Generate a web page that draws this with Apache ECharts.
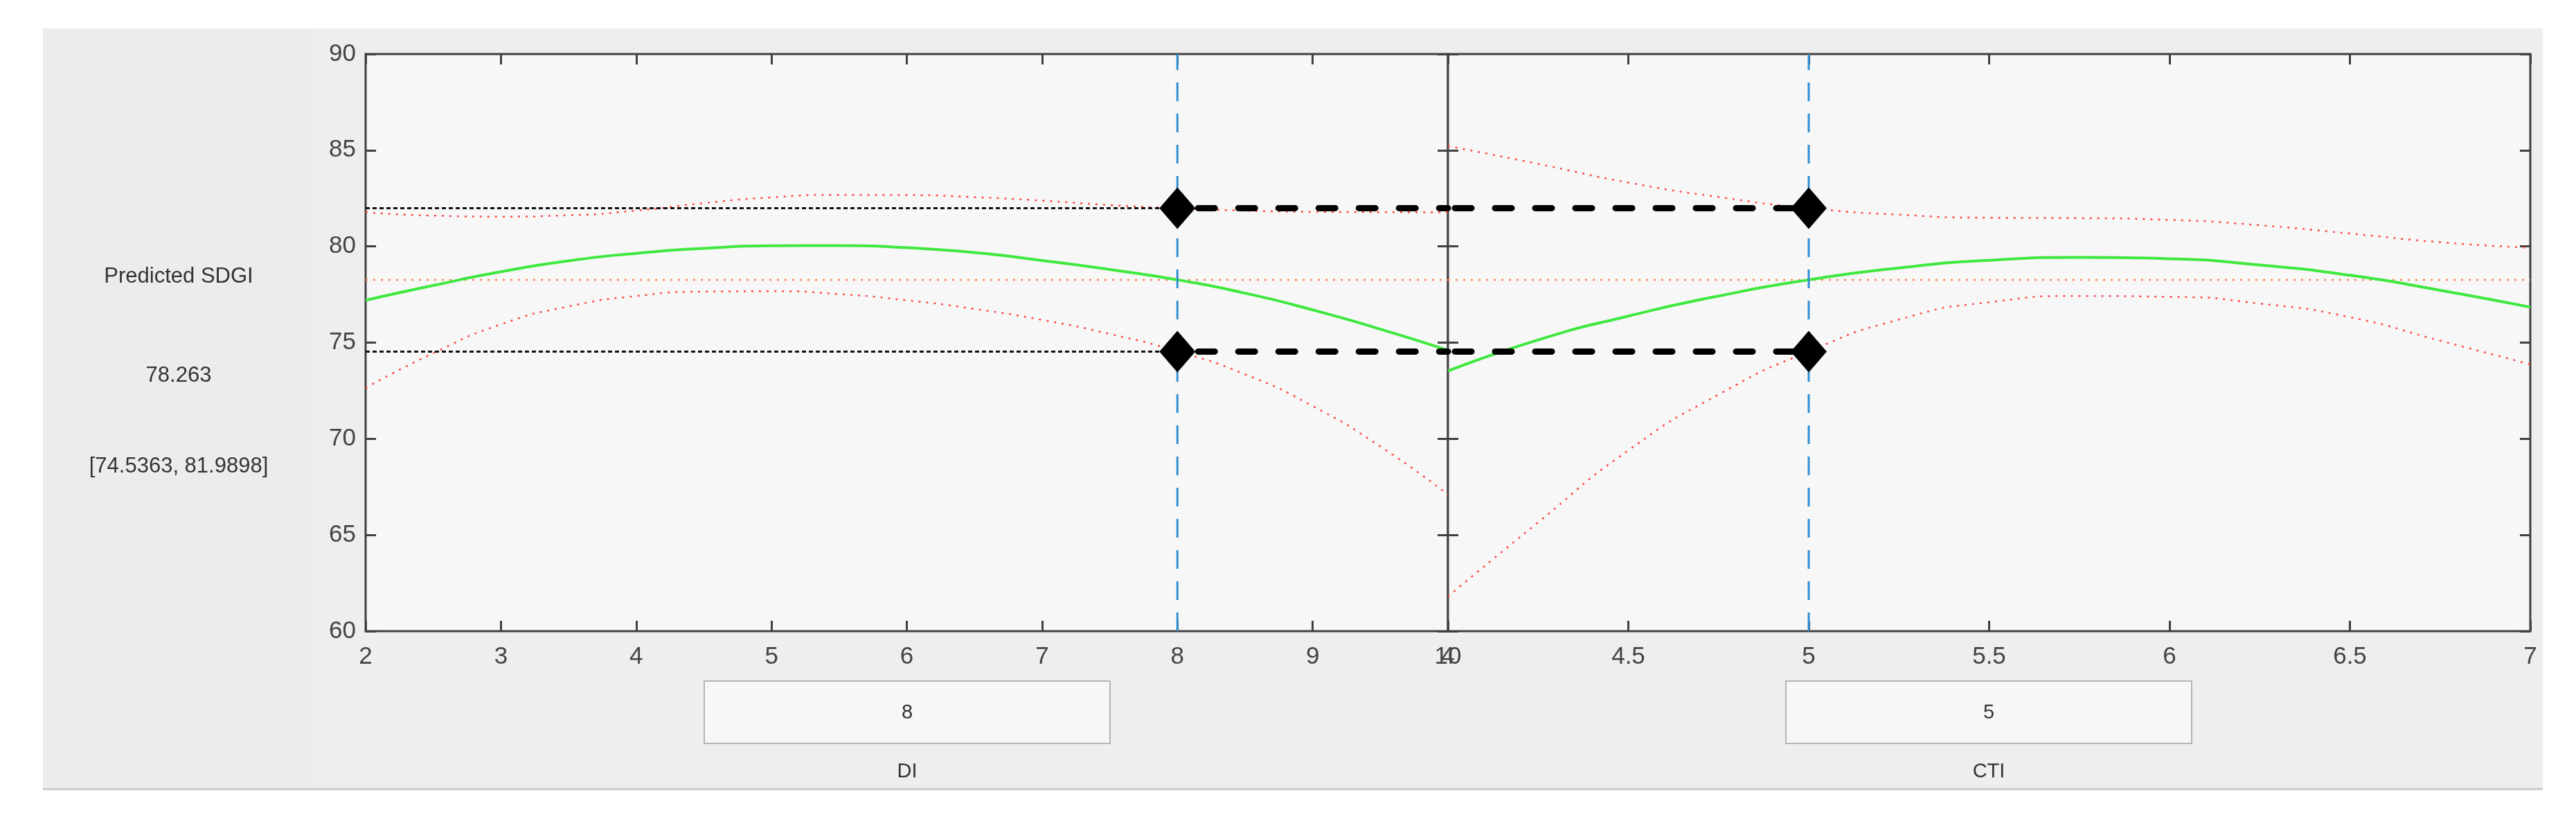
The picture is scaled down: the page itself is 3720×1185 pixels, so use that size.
<!DOCTYPE html>
<html>
<head>
<meta charset="utf-8">
<title>Prediction slice plot</title>
<script src="https://cdn.jsdelivr.net/npm/echarts@6/dist/echarts.min.js"></script>
<style>
  html, body { margin: 0; padding: 0; background: #ffffff; }
  #main { width: 3720px; height: 1185px; }
</style>
</head>
<body>
<div id="main"></div>
<script>
// predicted value and its confidence bounds at the current setting
var predicted = 78.263;
var ciLow = 74.5363;
var ciHigh = 81.9898;
var diSetting = 8;
var ctiSetting = 5;

// DI slice (x from 2 to 10)
var diX = [2, 2.5, 3, 3.5, 4, 4.5, 5, 5.5, 6, 6.5, 7, 7.5, 8, 8.5, 9, 9.5, 10];
var diFit = [77.2, 77.97, 78.68, 79.25, 79.64, 79.9, 80.03, 80.04, 79.93, 79.68, 79.27, 78.8, 78.263, 77.57, 76.7, 75.7, 74.6];
var diUpper = [81.78, 81.6, 81.55, 81.62, 81.86, 82.25, 82.55, 82.68, 82.67, 82.56, 82.38, 82.15, 81.99, 81.86, 81.8, 81.78, 81.77];
var diLower = [72.64, 74.45, 75.95, 76.88, 77.42, 77.65, 77.67, 77.52, 77.2, 76.75, 76.18, 75.45, 74.54, 73.35, 71.7, 69.6, 67.1];

// CTI slice (x from 4 to 7)
var ctiX = [4, 4.25, 4.5, 4.75, 5, 5.25, 5.5, 5.75, 6, 6.25, 6.5, 6.75, 7];
var ctiFit = [73.52, 75.14, 76.38, 77.42, 78.263, 78.88, 79.28, 79.43, 79.36, 79.03, 78.5, 77.72, 76.84];
var ctiUpper = [85.22, 84.29, 83.32, 82.57, 81.99, 81.65, 81.49, 81.47, 81.38, 81.1, 80.67, 80.22, 79.93];
var ctiLower = [61.8, 65.66, 69.4, 72.3, 74.54, 76.2, 77.1, 77.42, 77.38, 77.03, 76.32, 75.1, 73.87];

var leftTexts = ['Predicted SDGI', '78.263', '[74.5363, 81.9898]'];
var inputNames = ['DI', 'CTI'];
var inputValues = ['8', '5'];

function pairs(xs, ys) {
  return xs.map(function (x, i) { return [x, ys[i]]; });
}

var myChart = echarts.init(document.getElementById('main'));

var axisColor = '#404040';
var labelFont = 'Liberation Sans, Arial, sans-serif';

function xAxes(gridIndex, min, max, interval) {
  return [{
    type: 'value', gridIndex: gridIndex, position: 'bottom',
    min: min, max: max, interval: interval,
    axisLine: { show: false },
    axisTick: { show: true, inside: true, length: 15, lineStyle: { color: axisColor, width: 3 } },
    axisLabel: { show: true, margin: 20, color: '#444', fontSize: 35, fontFamily: labelFont,
      showMinLabel: true, showMaxLabel: true },
    splitLine: { show: false }
  }, {
    type: 'value', gridIndex: gridIndex, position: 'top',
    min: min, max: max, interval: interval,
    axisLine: { show: false },
    axisTick: { show: true, inside: true, length: 15, lineStyle: { color: axisColor, width: 3 } },
    axisLabel: { show: false },
    splitLine: { show: false }
  }];
}

function yAxes(gridIndex, withLabels) {
  return [{
    type: 'value', gridIndex: gridIndex, position: 'left',
    min: 60, max: 90, interval: 5,
    axisLine: { show: false },
    axisTick: { show: true, inside: true, length: 15, lineStyle: { color: axisColor, width: 3 } },
    axisLabel: { show: withLabels, margin: 14, color: '#444', fontSize: 35, fontFamily: labelFont },
    splitLine: { show: false }
  }, {
    type: 'value', gridIndex: gridIndex, position: 'right',
    min: 60, max: 90, interval: 5,
    axisLine: { show: false },
    axisTick: { show: true, inside: true, length: 15, lineStyle: { color: axisColor, width: 3 } },
    axisLabel: { show: false },
    splitLine: { show: false }
  }];
}

// series for one slice panel
function panelSeries(g, xs, fit, upper, lower, xMin, xMax, setting) {
  var xi = g * 2;
  var yi = g * 2;
  var list = [];
  // horizontal reference at the predicted value
  list.push({
    type: 'line', xAxisIndex: xi, yAxisIndex: yi, symbol: 'none', silent: true,
    data: [[xMin, predicted], [xMax, predicted]],
    lineStyle: { color: '#f08a5d', width: 2.5, type: [3, 8] }, z: 2
  });
  list.push({
    type: 'line', xAxisIndex: xi, yAxisIndex: yi, symbol: 'none', smooth: 0.6,
    data: pairs(xs, upper),
    lineStyle: { color: '#ff4a4a', width: 2.5, type: [3, 8] }, z: 3
  });
  list.push({
    type: 'line', xAxisIndex: xi, yAxisIndex: yi, symbol: 'none', smooth: 0.6,
    data: pairs(xs, lower),
    lineStyle: { color: '#ff4a4a', width: 2.5, type: [3, 8] }, z: 3
  });
  list.push({
    type: 'line', xAxisIndex: xi, yAxisIndex: yi, symbol: 'none', smooth: 0.6,
    data: pairs(xs, fit),
    lineStyle: { color: '#3fe83f', width: 4 }, z: 4
  });
  // vertical setting line
  list.push({
    type: 'line', xAxisIndex: xi, yAxisIndex: yi, symbol: 'none', silent: true,
    data: [[setting, 60], [setting, 90]],
    lineStyle: { color: '#2f8fd3', width: 3, type: [27, 18] }, z: 5
  });
  return list;
}

var series = []
  .concat(panelSeries(0, diX, diFit, diUpper, diLower, 2, 10, diSetting))
  .concat(panelSeries(1, ctiX, ctiFit, ctiUpper, ctiLower, 4, 7, ctiSetting));

// thin dashed guides from the y axis to the DI setting
[ciHigh, ciLow].forEach(function (v) {
  series.push({
    type: 'line', xAxisIndex: 0, yAxisIndex: 0, symbol: 'none', silent: true,
    data: [[2, v], [diSetting, v]],
    lineStyle: { color: '#111', width: 3, type: [6, 4] }, z: 6
  });
  // thick dashed connectors between the two settings
  series.push({
    type: 'line', xAxisIndex: 0, yAxisIndex: 0, symbol: 'none', silent: true,
    data: [[diSetting, v], [10, v]],
    lineStyle: { color: '#000', width: 9, type: [24, 34], cap: 'round', dashOffset: -30 }, z: 7
  });
  series.push({
    type: 'line', xAxisIndex: 2, yAxisIndex: 2, symbol: 'none', silent: true,
    data: [[4, v], [ctiSetting, v]],
    lineStyle: { color: '#000', width: 9, type: [24, 34], cap: 'round', dashOffset: -10 }, z: 7
  });
});

// diamond markers at the bounds
series.push({
  type: 'scatter', xAxisIndex: 0, yAxisIndex: 0, symbol: 'diamond', symbolSize: [52, 60],
  data: [[diSetting, ciHigh], [diSetting, ciLow]],
  itemStyle: { color: '#000', opacity: 1 }, z: 8
});
series.push({
  type: 'scatter', xAxisIndex: 2, yAxisIndex: 2, symbol: 'diamond', symbolSize: [52, 60],
  data: [[ctiSetting, ciHigh], [ctiSetting, ciLow]],
  itemStyle: { color: '#000', opacity: 1 }, z: 8
});

var graphics = [
  { type: 'rect', z: -10, shape: { x: 62, y: 41, width: 3610, height: 1097 }, style: { fill: '#eeeeee' } },
  { type: 'rect', z: -9, shape: { x: 62, y: 41, width: 391, height: 1097 }, style: { fill: '#ececec' } },
  { type: 'line', z: -8, shape: { x1: 62, y1: 1139, x2: 3672, y2: 1139 }, style: { stroke: '#c8c8c8', lineWidth: 3 } }
];
var leftY = [399, 542, 673];
leftTexts.forEach(function (t, i) {
  graphics.push({
    type: 'text', x: 258, y: leftY[i],
    style: { text: t, fill: '#333', font: '31px Liberation Sans, Arial, sans-serif', textAlign: 'center', textVerticalAlign: 'middle' }
  });
});
var boxCx = [1310, 2872];
inputNames.forEach(function (name, i) {
  graphics.push({
    type: 'rect', shape: { x: boxCx[i] - 293, y: 983, width: 586, height: 90 },
    style: { fill: '#f7f7f7', stroke: '#b4b4b4', lineWidth: 2 }
  });
  graphics.push({
    type: 'text', x: boxCx[i], y: 1029,
    style: { text: inputValues[i], fill: '#333', font: '29px Liberation Sans, Arial, sans-serif', textAlign: 'center', textVerticalAlign: 'middle' }
  });
  graphics.push({
    type: 'text', x: boxCx[i], y: 1114,
    style: { text: name, fill: '#333', font: '29px Liberation Sans, Arial, sans-serif', textAlign: 'center', textVerticalAlign: 'middle' }
  });
});

var option = {
  animation: false,
  backgroundColor: '#ffffff',
  grid: [
    { left: 528, top: 78, width: 1563, height: 833, show: true, backgroundColor: '#f7f7f7', borderColor: axisColor, borderWidth: 3 },
    { left: 2091, top: 78, width: 1563, height: 833, show: true, backgroundColor: '#f7f7f7', borderColor: axisColor, borderWidth: 3 }
  ],
  xAxis: xAxes(0, 2, 10, 1).concat(xAxes(1, 4, 7, 0.5)),
  yAxis: yAxes(0, true).concat(yAxes(1, false)),
  graphic: graphics,
  series: series
};

myChart.setOption(option);
</script>
</body>
</html>
